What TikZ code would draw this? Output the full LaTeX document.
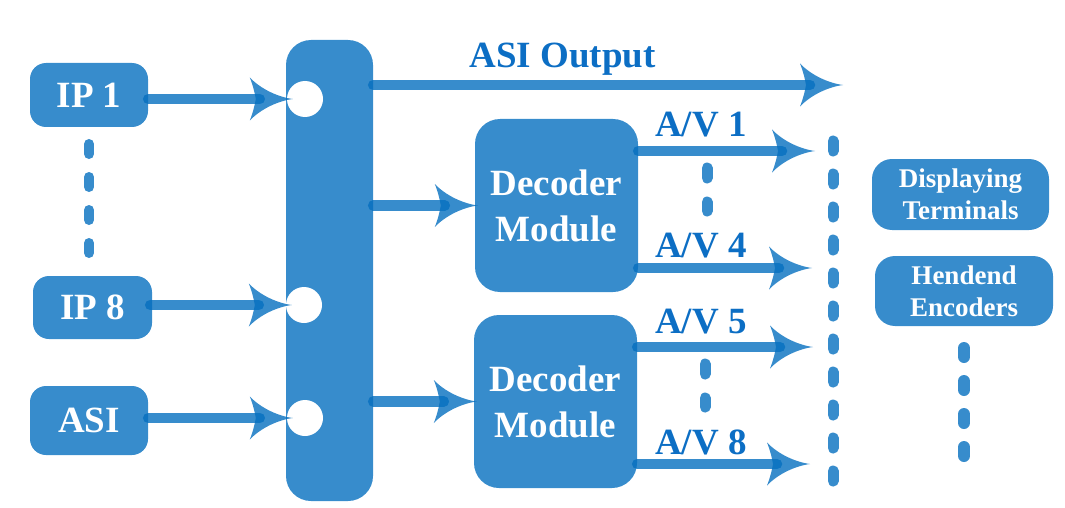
\documentclass[tikz,border=0pt]{standalone}
\usepackage{fontspec}
\setmainfont{Liberation Serif}
\usetikzlibrary{arrows.meta,calc}
\definecolor{boxblue}{RGB}{55,140,204}
\definecolor{lineblue}{RGB}{5,111,191}
\definecolor{labelblue}{RGB}{12,110,196}
\pgfdeclarearrow{
  name = Swoop,
  setup code = {
    \pgfarrowssettipend{0pt}
    \pgfarrowssetlineend{-33pt}
    \pgfarrowssetbackend{-43pt}
    \pgfarrowsupperhullpoint{-43pt}{21.5pt}
    \pgfarrowsupperhullpoint{0pt}{0pt}
  },
  drawing code = {
    \pgfpathmoveto{\pgfpointorigin}
    \pgfpathcurveto{\pgfpoint{-15pt}{2pt}}{\pgfpoint{-32pt}{10pt}}{\pgfpoint{-43pt}{21.5pt}}
    \pgfpathcurveto{\pgfpoint{-40pt}{14pt}}{\pgfpoint{-38pt}{6pt}}{\pgfpoint{-37pt}{0pt}}
    \pgfpathcurveto{\pgfpoint{-38pt}{-6pt}}{\pgfpoint{-40pt}{-14pt}}{\pgfpoint{-43pt}{-21.5pt}}
    \pgfpathcurveto{\pgfpoint{-32pt}{-10pt}}{\pgfpoint{-15pt}{-2pt}}{\pgfpointorigin}
    \pgfpathclose
    \pgfusepathqfill
  }
}
\tikzset{
  blk/.style={fill=boxblue, text=white, inner sep=0pt, align=center,
    font=\bfseries\fontsize{37}{46}\selectfont},
  smallblk/.style={fill=boxblue, text=white, inner sep=0pt, align=center,
    rounded corners=20pt, font=\bfseries\fontsize{27}{32}\selectfont},
  port/.style={circle, fill=white, minimum size=36pt, inner sep=0pt},
  conn/.style={draw=lineblue, line width=10.5pt, line cap=round, opacity=0.8, -{Swoop}},
  lbl/.style={text=labelblue, inner sep=0pt, anchor=base, font=\bfseries\fontsize{37}{44}\selectfont},
  dots/.style={draw=boxblue, line width=11pt, line cap=round, dash pattern=on 10pt off 23pt},
}
\begin{document}
\begin{tikzpicture}[x=1pt,y=-1pt]
\useasboundingbox (0,0) rectangle (1065,508);
% input boxes
\node[blk, rounded corners=16pt, minimum width=118pt, minimum height=64pt] (ip1) at (89,95) {IP 1};
\node[blk, rounded corners=16pt, minimum width=119pt, minimum height=63pt] (ip8) at (92.5,307.5) {IP 8};
\node[blk, rounded corners=16pt, minimum width=118pt, minimum height=69pt] (asi) at (89,420.5) {ASI};
% hub
\node[fill=boxblue, rounded corners=25pt, minimum width=87pt, minimum height=461pt, inner sep=0pt] (hub) at (329.5,270.5) {};
\node[port] (c1) at (305,99) {};
\node[port] (c2) at (304,305) {};
\node[port] (c3) at (305,418) {};
% decoders
\node[blk, rounded corners=25pt, minimum width=163pt, minimum height=173pt] (dec1) at (556.5,205.5) {Decoder\\Module};
\node[blk, rounded corners=25pt, minimum width=163pt, minimum height=173pt] (dec2) at (555.5,401.5) {Decoder\\Module};
% right boxes
\node[smallblk, minimum width=177pt, minimum height=71pt] (dt) at (960.5,194.5) {Displaying\\Terminals};
\node[smallblk, minimum width=178pt, minimum height=70pt] (he) at (964,291) {Hendend\\Encoders};
% free ends
\coordinate (o1) at (843,85);
\coordinate (a1) at (815,151);
\coordinate (a4) at (812,268);
\coordinate (a5) at (813,347);
\coordinate (a8) at (810,464);
% connectors
\draw[conn] (ip1.east |- c1) -- ([xshift=6pt]c1.west);
\draw[conn] ([xshift=-2pt]ip8.east |- c2) -- ([xshift=6pt]c2.west);
\draw[conn] (asi.east |- c3) -- ([xshift=6pt]c3.west);
\draw[conn] (hub.east |- o1) -- (o1);
\draw[conn] (hub.east |- dec1.west) -- ([xshift=3pt]dec1.west);
\draw[conn] (hub.east |- dec2.west) -- ([xshift=3pt]dec2.west);
\draw[conn] (dec1.east |- a1) -- (a1);
\draw[conn] (dec1.east |- a4) -- (a4);
\draw[conn] (dec2.east |- a5) -- (a5);
\draw[conn] (dec2.east |- a8) -- (a8);
% labels
\node[lbl] (lo) at (562.5,68) {ASI Output};
\node[lbl] (l1) at (701,137) {A/V 1};
\node[lbl] (l4) at (701,257) {A/V 4};
\node[lbl] (l5) at (701,333) {A/V 5};
\node[lbl] (l8) at (701,454) {A/V 8};
% ellipsis dots
\draw[dots, line width=10pt] (89,144) -- (89,254);
\draw[dots, dash pattern=on 10pt off 24pt] (707,168) -- (707,211);
\draw[dots, dash pattern=on 10pt off 24pt] (705,364) -- (705,407);
\draw[dots] (833,141) -- (833,481);
\draw[dots, line width=12pt, dash pattern=on 9pt off 24pt] (964,348) -- (964,456);
\end{tikzpicture}
\end{document}
